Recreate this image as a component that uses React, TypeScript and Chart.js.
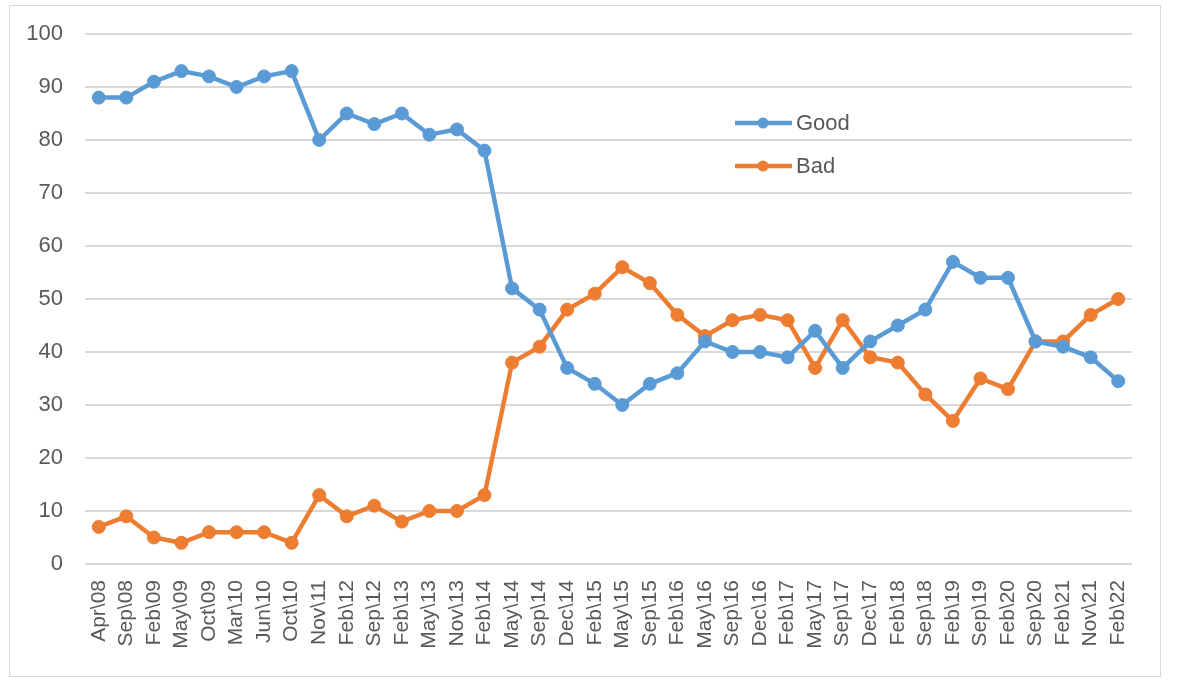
import React, { useEffect, useRef } from 'react';
import { Chart, registerables, Plugin } from 'chart.js';

Chart.register(...registerables);

const labels = [
  'Apr\\08', 'Sep\\08', 'Feb\\09', 'May\\09', 'Oct\\09', 'Mar\\10', 'Jun\\10', 'Oct\\10',
  'Nov\\11', 'Feb\\12', 'Sep\\12', 'Feb\\13', 'May\\13', 'Nov\\13', 'Feb\\14', 'May\\14',
  'Sep\\14', 'Dec\\14', 'Feb\\15', 'May\\15', 'Sep\\15', 'Feb\\16', 'May\\16', 'Sep\\16',
  'Dec\\16', 'Feb\\17', 'May\\17', 'Sep\\17', 'Dec\\17', 'Feb\\18', 'Sep\\18', 'Feb\\19',
  'Sep\\19', 'Feb\\20', 'Sep\\20', 'Feb\\21', 'Nov\\21', 'Feb\\22',
];

const goodValues = [
  88, 88, 91, 93, 92, 90, 92, 93, 80, 85, 83, 85, 81, 82, 78, 52, 48, 37, 34, 30,
  34, 36, 42, 40, 40, 39, 44, 37, 42, 45, 48, 57, 54, 54, 42, 41, 39, 34.5,
];

const badValues = [
  7, 9, 5, 4, 6, 6, 6, 4, 13, 9, 11, 8, 10, 10, 13, 38, 41, 48, 51, 56,
  53, 47, 43, 46, 47, 46, 37, 46, 39, 38, 32, 27, 35, 33, 42, 42, 47, 50,
];

const BLUE = '#5B9BD5';
const ORANGE = '#ED7D31';
const TEXT = '#595959';
const GRID = '#d9d9d9';
const FONT = '"Liberation Sans", Arial, sans-serif';

// legend sits inside the plot, like the Excel original
const insideLegend: Plugin<'line'> = {
  id: 'insideLegend',
  afterDraw(chart) {
    const ctx = chart.ctx;
    const x0 = 725;
    let y = 117;
    ctx.save();
    chart.data.datasets.forEach((ds) => {
      const color = ds.borderColor as string;
      ctx.strokeStyle = color;
      ctx.lineWidth = 4.5;
      ctx.beginPath();
      ctx.moveTo(x0, y);
      ctx.lineTo(x0 + 57, y);
      ctx.stroke();
      ctx.fillStyle = color;
      ctx.beginPath();
      ctx.arc(x0 + 28, y, 5.5, 0, Math.PI * 2);
      ctx.fill();
      ctx.fillStyle = TEXT;
      ctx.font = `22px ${FONT}`;
      ctx.textBaseline = 'middle';
      ctx.textAlign = 'left';
      ctx.fillText(String(ds.label), x0 + 61, y + 1);
      y += 43;
    });
    ctx.restore();
  },
};

const App: React.FC = () => {
  const chartRef = useRef<HTMLCanvasElement>(null);
  const chartInstance = useRef<Chart | null>(null);

  useEffect(() => {
    if (!chartRef.current) return;
    const ctx = chartRef.current.getContext('2d');
    if (!ctx) return;

    if (chartInstance.current) {
      chartInstance.current.destroy();
    }

    chartInstance.current = new Chart(ctx, {
      type: 'line',
      data: {
        labels,
        datasets: [
          {
            label: 'Good',
            data: goodValues,
            borderColor: BLUE,
            backgroundColor: BLUE,
            borderWidth: 4.5,
            pointRadius: 6.5,
            pointBorderWidth: 1,
            pointBorderColor: BLUE,
            tension: 0,
          },
          {
            label: 'Bad',
            data: badValues,
            borderColor: ORANGE,
            backgroundColor: ORANGE,
            borderWidth: 4.5,
            pointRadius: 6.5,
            pointBorderWidth: 1,
            pointBorderColor: ORANGE,
            tension: 0,
          },
        ],
      },
      options: {
        responsive: true,
        maintainAspectRatio: false,
        animation: false,
        layout: {
          padding: { top: 28, right: 28, bottom: 0, left: 0 },
        },
        plugins: {
          legend: { display: false },
          tooltip: { enabled: false },
        },
        scales: {
          x: {
            offset: true,
            grid: { display: false },
            border: { display: false },
            ticks: {
              color: TEXT,
              font: { family: FONT, size: 21 },
              minRotation: 90,
              maxRotation: 90,
              autoSkip: false,
              padding: 8,
            },
            afterFit: (scale) => {
              scale.height = 112;
            },
          },
          y: {
            min: 0,
            max: 100,
            // invisible tick marks push the labels away from the plot
            grid: {
              color: GRID,
              lineWidth: 2,
              drawTicks: true,
              tickLength: 22,
              tickColor: 'rgba(0,0,0,0)',
            },
            border: { display: false },
            ticks: {
              stepSize: 10,
              color: TEXT,
              font: { family: FONT, size: 22 },
              padding: 0,
            },
            afterFit: (scale) => {
              scale.width = 75;
            },
          },
        },
      },
      plugins: [insideLegend],
    });

    return () => {
      if (chartInstance.current) {
        chartInstance.current.destroy();
        chartInstance.current = null;
      }
    };
  }, []);

  return (
    <div
      style={{
        position: 'absolute',
        left: 9,
        top: 5,
        width: 1152,
        height: 672,
        border: `1px solid ${GRID}`,
        boxSizing: 'border-box',
        background: '#fff',
      }}
    >
      <canvas ref={chartRef} />
    </div>
  );
};

export default App;
